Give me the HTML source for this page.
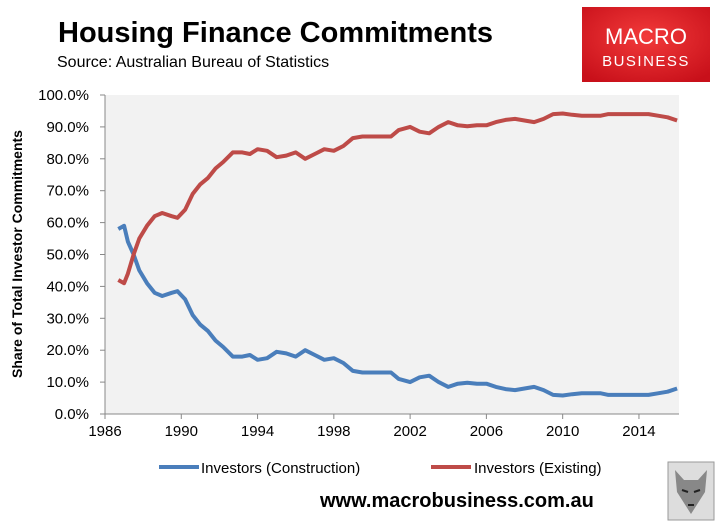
<!DOCTYPE html>
<html><head><meta charset="utf-8"><style>
body{margin:0;width:719px;height:524px;background:#fff;overflow:hidden;font-family:"Liberation Sans",sans-serif}
</style></head><body>
<svg width="719" height="524">
<text x="58" y="42" font-size="29" font-weight="bold" fill="#000">Housing Finance Commitments</text>
<text x="57" y="67" font-size="16" fill="#000">Source: Australian Bureau of Statistics</text>
<g>
<defs><radialGradient id="lg" cx="50%" cy="40%" r="70%"><stop offset="0" stop-color="#f23a3a"/><stop offset="1" stop-color="#c8101a"/></radialGradient></defs>
<rect x="582" y="7" width="128" height="75" fill="url(#lg)"/>
<text x="646" y="44" font-size="22" fill="#fff" text-anchor="middle">MACRO</text>
<text x="646" y="66" font-size="15" fill="#fff" text-anchor="middle" letter-spacing="1.5">BUSINESS</text>
</g>
<rect x="105" y="95" width="574" height="319" fill="#f2f2f2"/>
<g id="axes"></g>
<g id="series"></g>
<text transform="translate(22,254) rotate(-90)" font-size="14" font-weight="bold" text-anchor="middle">Share of Total Investor Commitments</text>
<g>
<line x1="159" y1="467" x2="199" y2="467" stroke="#4a7ebb" stroke-width="4"/>
<text x="201" y="473" font-size="15">Investors (Construction)</text>
<line x1="431" y1="467" x2="471" y2="467" stroke="#be4b48" stroke-width="4"/>
<text x="474" y="473" font-size="15">Investors (Existing)</text>
</g>
<text x="320" y="507" font-size="20" font-weight="bold">www.macrobusiness.com.au</text>
<g>
<rect x="668" y="462" width="46" height="58" fill="#ddd" stroke="#999"/>
<path d="M675 470 L684 480 L698 480 L707 470 L705 492 L691 514 L677 492 Z" fill="#888"/>
<path d="M682 490 L688 492 M694 492 L700 490 M688 505 L694 505" stroke="#222" stroke-width="2"/>
</g>
</svg>
<script>
const years=[1986.7,1987.0,1987.2,1987.5,1987.8,1988.2,1988.6,1989.0,1989.5,1989.8,1990.2,1990.6,1991.0,1991.4,1991.8,1992.2,1992.7,1993.2,1993.6,1994.0,1994.5,1995.0,1995.5,1996.0,1996.5,1997.0,1997.5,1998.0,1998.5,1999.0,1999.5,2000.0,2000.5,2001.0,2001.4,2002.0,2002.5,2003.0,2003.5,2004.0,2004.5,2005.0,2005.5,2006.0,2006.5,2007.0,2007.5,2008.0,2008.5,2009.0,2009.5,2010.0,2010.5,2011.0,2011.5,2012.0,2012.4,2013.0,2013.5,2014.0,2014.5,2015.0,2015.5,2016.0];
const construction=[58,59,54,50,45,41,38,37,38,38.5,36,31,28,26,23,21,18,18,18.5,17,17.5,19.5,19,18,20,18.5,17,17.5,16,13.5,13,13,13,13,11,10,11.5,12,10,8.5,9.5,9.8,9.5,9.5,8.5,7.8,7.5,8,8.5,7.5,6,5.8,6.2,6.5,6.5,6.5,6,6,6,6,6,6.5,7,8];
const existing=[42,41,44,50,55,59,62,63,62,61.5,64,69,72,74,77,79,82,82,81.5,83,82.5,80.5,81,82,80,81.5,83,82.5,84,86.5,87,87,87,87,89,90,88.5,88,90,91.5,90.5,90.2,90.5,90.5,91.5,92.2,92.5,92,91.5,92.5,94,94.2,93.8,93.5,93.5,93.5,94,94,94,94,94,93.5,93,92];
const yTicks=[0,10,20,30,40,50,60,70,80,90,100];
const xTicks=[1986,1990,1994,1998,2002,2006,2010,2014];
const X0=105,X1=679,Y0=414,Y1=95,YR0=1986,YR1=2016.1;
const xs=v=>X0+(v-YR0)/(YR1-YR0)*(X1-X0);
const ys=v=>Y0-v/100*(Y0-Y1);
const NS="http://www.w3.org/2000/svg";
const axes=document.getElementById('axes'),ser=document.getElementById('series');
function mk(t,a,p){const e=document.createElementNS(NS,t);for(const k in a)e.setAttribute(k,a[k]);p.appendChild(e);return e;}
const ya=mk('line',{x1:X0,y1:Y1,x2:X0,y2:Y0,stroke:'#888'},axes);


const xa=mk('line',{x1:X0,y1:Y0,x2:X1,y2:Y0,stroke:'#888'},axes);


yTicks.forEach(v=>{
 mk('line',{x1:X0-5,x2:X0,y1:ys(v),y2:ys(v),stroke:'#888'},axes);
 const t=mk('text',{x:X0-16,y:ys(v)+5,'font-size':15,'text-anchor':'end'},axes);
 t.textContent=v.toFixed(1)+'%';
 
 
});
xTicks.forEach(v=>{
 mk('line',{x1:xs(v),x2:xs(v),y1:Y0,y2:Y0+5,stroke:'#888'},axes);
 const t=mk('text',{x:xs(v),y:Y0+22,'font-size':15,'text-anchor':'middle'},axes);
 t.textContent=v;
 
 
});
function line(vals,col,name){
 const d=vals.map((v,i)=>(i?'L':'M')+xs(years[i]).toFixed(1)+' '+ys(v).toFixed(1)).join(' ');
 const p=mk('path',{d:d,fill:'none',stroke:col,'stroke-width':4,'stroke-linejoin':'round'},ser);
 
 
}
line(construction,'#4a7ebb','series-construction');
line(existing,'#be4b48','series-existing');
</script>
</body></html>
